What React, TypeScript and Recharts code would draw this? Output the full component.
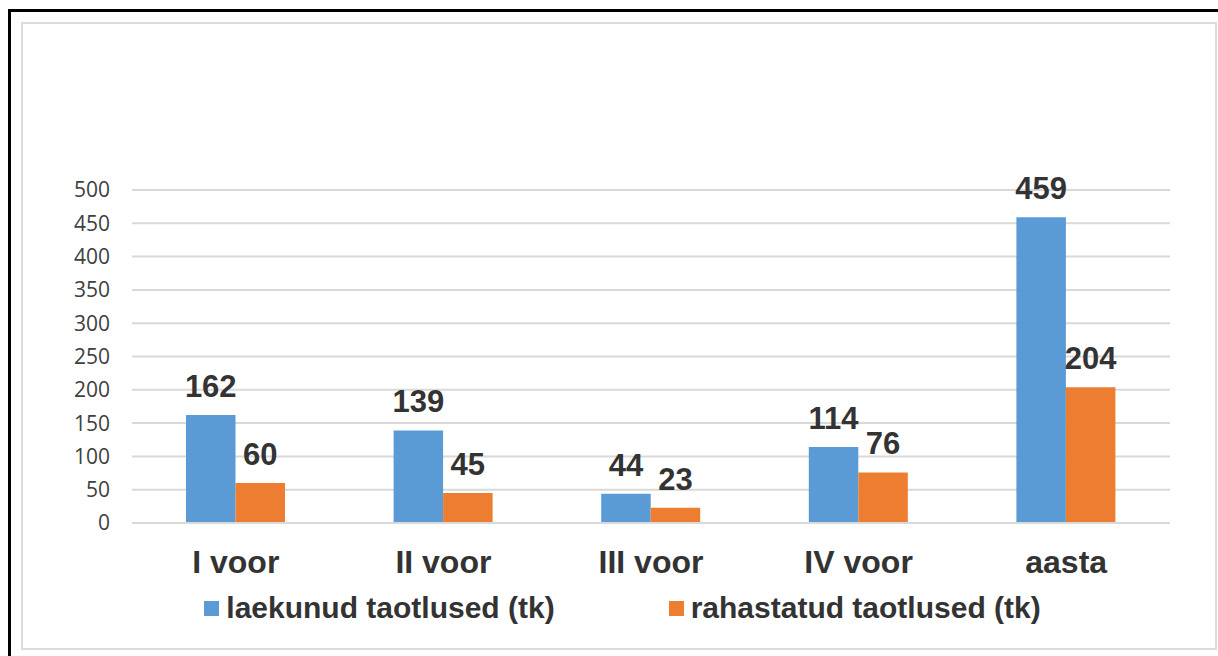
import { Bar, BarChart, CartesianGrid, LabelList, Legend, XAxis, YAxis } from "recharts";

const categories = ["I voor", "II voor", "III voor", "IV voor", "aasta"];
const laekunud = [162, 139, 44, 114, 459];
const rahastatud = [60, 45, 23, 76, 204];
const yTicks = [0, 50, 100, 150, 200, 250, 300, 350, 400, 450, 500];

const seriesNames = {
  laekunud: "laekunud taotlused (tk)",
  rahastatud: "rahastatud taotlused (tk)",
};

const BLUE = "#5B9BD5";
const ORANGE = "#ED7D31";

const data = categories.map((name, i) => ({
  name,
  laekunud: laekunud[i],
  rahastatud: rahastatud[i],
}));

const boldFont = '"Liberation Sans", Arial, sans-serif';

function LegendContent() {
  const items = [
    { label: seriesNames.laekunud, color: BLUE },
    { label: seriesNames.rahastatud, color: ORANGE },
  ];
  return (
    <div
      style={{
        display: "flex",
        justifyContent: "center",
        alignItems: "flex-start",
        gap: 114,
        paddingTop: 0,
        paddingLeft: 54,
        height: 57,
        boxSizing: "border-box",
      }}
    >
      {items.map((it) => (
        <div key={it.label} style={{ display: "flex", alignItems: "flex-start" }}>
          <span
            style={{
              display: "inline-block",
              width: 15,
              height: 15,
              marginTop: 8,
              marginRight: 7,
              background: it.color,
            }}
          />
          <span
            style={{
              fontFamily: boldFont,
              fontWeight: "bold",
              fontSize: 30,
              lineHeight: "30px",
              color: "#333333",
            }}
          >
            {it.label}
          </span>
        </div>
      ))}
    </div>
  );
}

export default function App() {
  return (
    <div style={{ position: "absolute", left: 0, top: 0, width: 1218, height: 656, overflow: "hidden", background: "#fff" }}>
      <div
        style={{
          position: "absolute",
          left: 8,
          top: 9,
          width: 1230,
          height: 670,
          border: "3.5px solid #000",
          boxSizing: "border-box",
        }}
      />
      <div
        style={{
          position: "absolute",
          left: 21,
          top: 22,
          width: 1196,
          height: 628,
          border: "2px solid #dcdcdc",
          boxSizing: "border-box",
        }}
      />
      <div style={{ position: "absolute", left: 21, top: 22 }}>
        <BarChart
          width={1195}
          height={628}
          data={data}
          margin={{ top: 168, right: 46, left: 0, bottom: 0 }}
          barSize={49.5}
          barGap={0}
        >
          <CartesianGrid vertical={false} stroke="#d9d9d9" strokeWidth={2} />
          <XAxis
            dataKey="name"
            height={70}
            axisLine={{ stroke: "#d9d9d9", strokeWidth: 2 }}
            tickLine={false}
            tickMargin={21}
            tick={{ fontFamily: boldFont, fontWeight: "bold", fontSize: 32, fill: "#333333" }}
          />
          <YAxis
            width={111}
            domain={[0, 500]}
            ticks={yTicks}
            axisLine={false}
            tickLine={false}
            tickMargin={16}
            tick={{ fontFamily: '"Open Sans", sans-serif', fontSize: 21, fill: "#404040" }}
          />
          <Legend verticalAlign="bottom" height={57} content={<LegendContent />} />
          <Bar dataKey="laekunud" name={seriesNames.laekunud} fill={BLUE} isAnimationActive={false}>
            <LabelList
              dataKey="laekunud"
              position="top"
              offset={18}
              style={{ fontFamily: boldFont, fontWeight: "bold", fontSize: 31, fill: "#333333" }}
            />
          </Bar>
          <Bar dataKey="rahastatud" name={seriesNames.rahastatud} fill={ORANGE} isAnimationActive={false}>
            <LabelList
              dataKey="rahastatud"
              position="top"
              offset={18}
              style={{ fontFamily: boldFont, fontWeight: "bold", fontSize: 31, fill: "#333333" }}
            />
          </Bar>
        </BarChart>
      </div>
    </div>
  );
}
